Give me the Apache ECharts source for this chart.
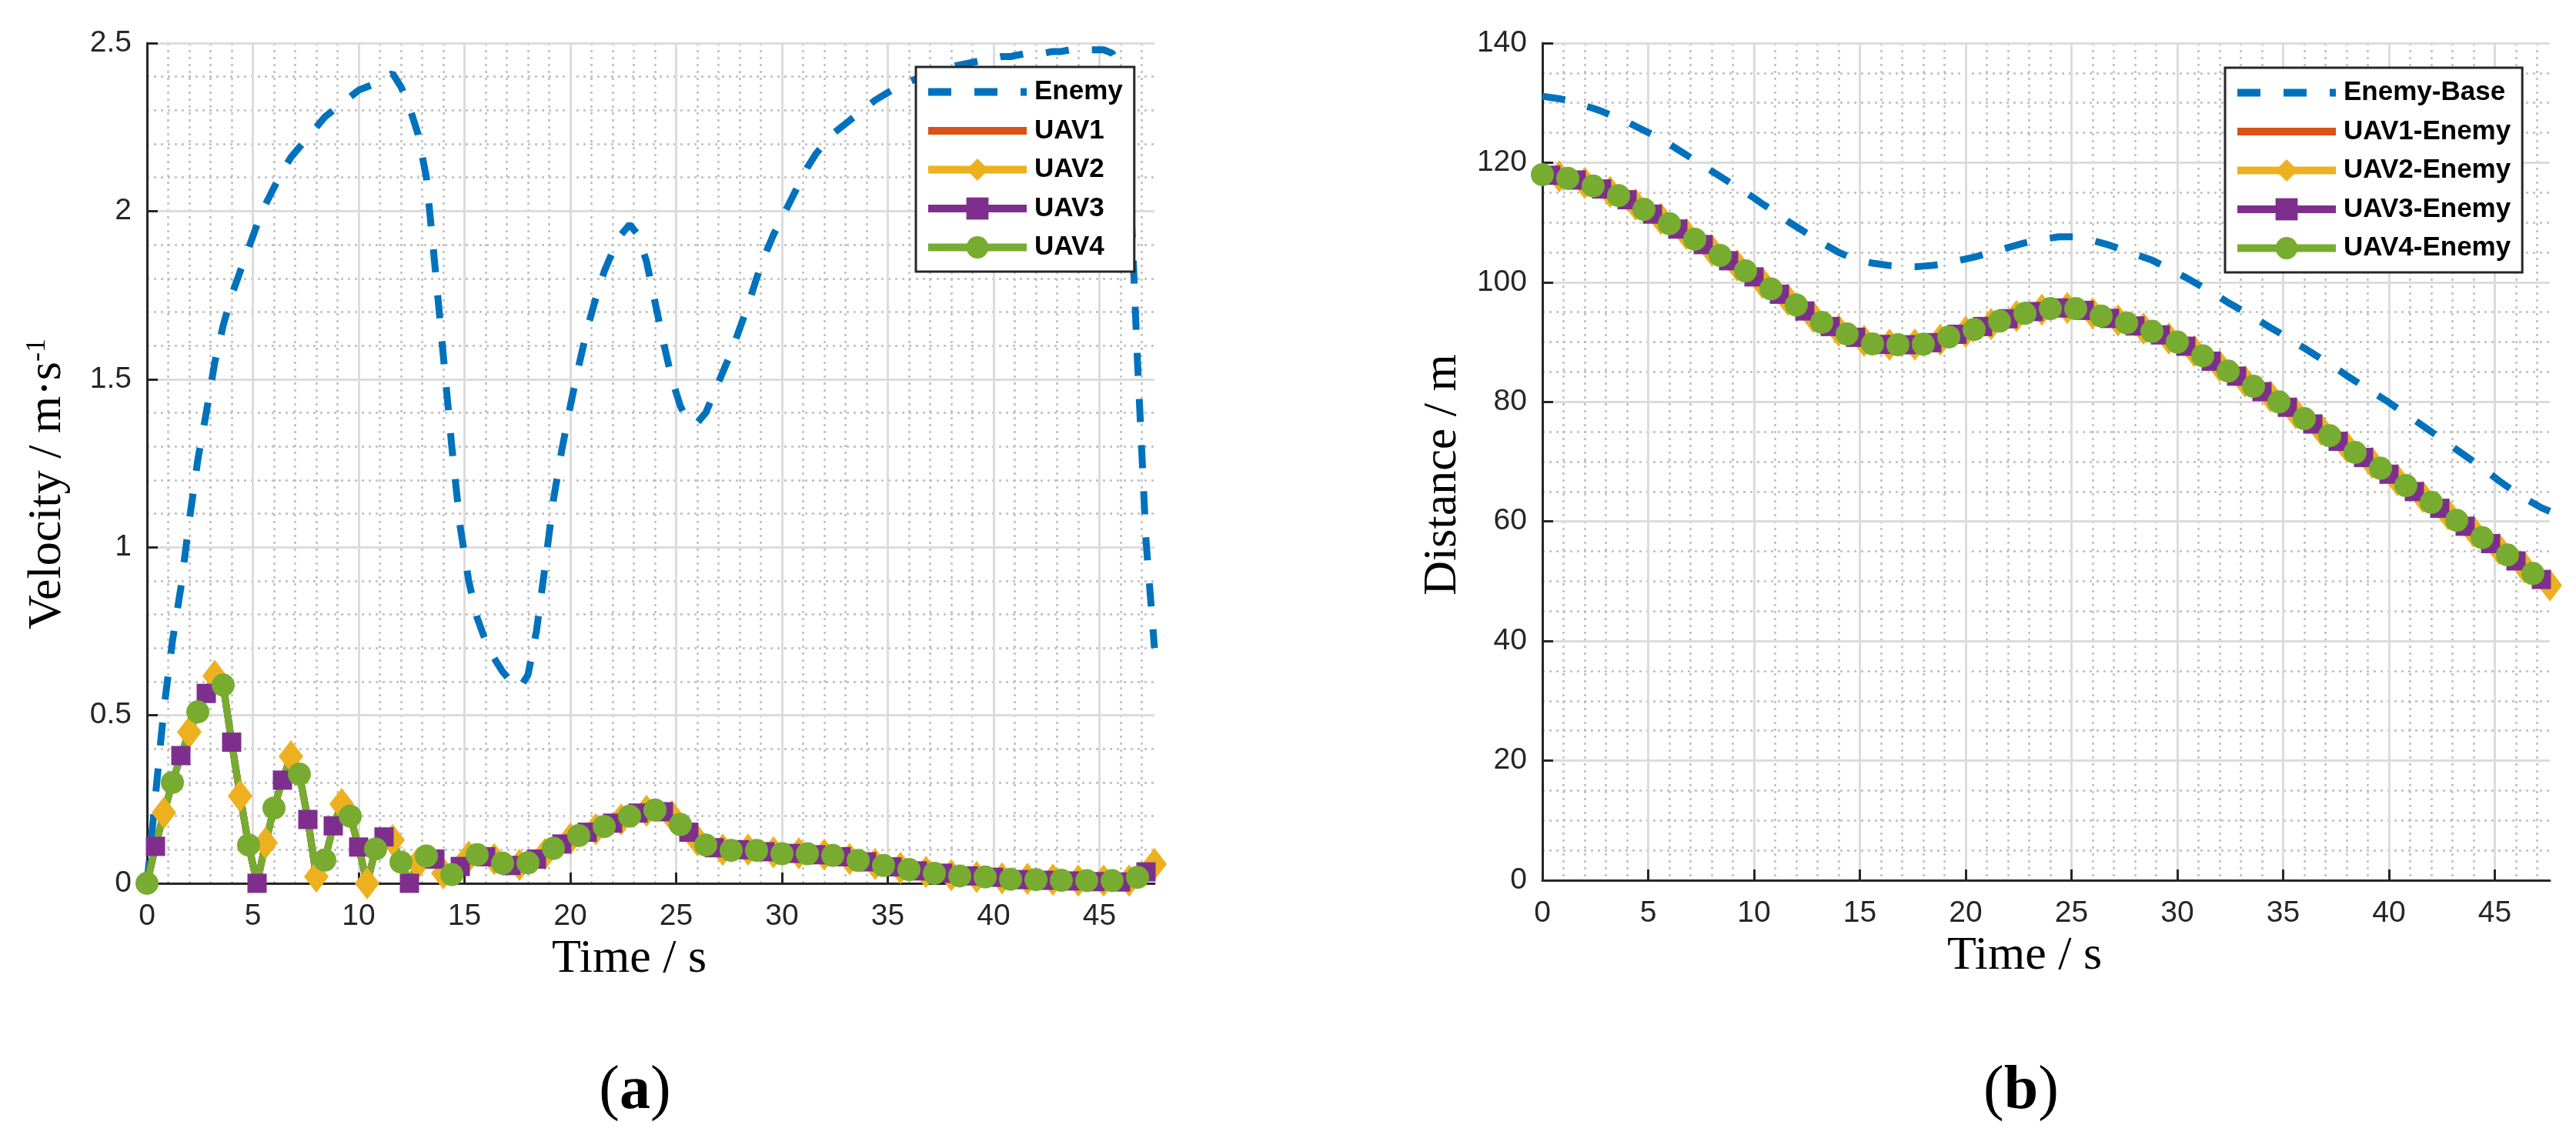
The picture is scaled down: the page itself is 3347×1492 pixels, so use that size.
<!DOCTYPE html>
<html>
<head>
<meta charset="utf-8">
<title>Velocity and distance</title>
<script src="https://cdn.jsdelivr.net/npm/echarts@6/dist/echarts.min.js"></script>
<style>
  html, body { margin: 0; padding: 0; background: #fff; }
  #chart { width: 3347px; height: 1492px; }
</style>
</head>
<body>
<div id="chart"></div>
<script>
// sample times (s), shared by every curve
var timeSec = [
  0, 0.4, 0.8, 1.2, 1.6, 2, 2.4, 2.8, 3.2, 3.6,
  4, 4.4, 4.8, 5.2, 5.6, 6, 6.4, 6.8, 7.2, 7.6,
  8, 8.4, 8.8, 9.2, 9.6, 10, 10.4, 10.8, 11.2, 11.6,
  12, 12.4, 12.8, 13.2, 13.6, 14, 14.4, 14.8, 15.2, 15.6,
  16, 16.4, 16.8, 17.2, 17.6, 18, 18.4, 18.8, 19.2, 19.6,
  20, 20.4, 20.8, 21.2, 21.6, 22, 22.4, 22.8, 23.2, 23.6,
  24, 24.4, 24.8, 25.2, 25.6, 26, 26.4, 26.8, 27.2, 27.6,
  28, 28.4, 28.8, 29.2, 29.6, 30, 30.4, 30.8, 31.2, 31.6,
  32, 32.4, 32.8, 33.2, 33.6, 34, 34.4, 34.8, 35.2, 35.6,
  36, 36.4, 36.8, 37.2, 37.6, 38, 38.4, 38.8, 39.2, 39.6,
  40, 40.4, 40.8, 41.2, 41.6, 42, 42.4, 42.8, 43.2, 43.6,
  44, 44.4, 44.8, 45.2, 45.6, 46, 46.4, 46.8, 47.2, 47.6
];

// (a) velocity, m/s
var enemySpeed = [
  0.00, 0.26, 0.52, 0.72, 0.88, 1.08, 1.26, 1.40, 1.55, 1.66,
  1.75, 1.82, 1.89, 1.96, 2.02, 2.07, 2.12, 2.16, 2.19, 2.22,
  2.25, 2.28, 2.30, 2.32, 2.34, 2.36, 2.37, 2.38, 2.39, 2.41,
  2.37, 2.31, 2.23, 2.10, 1.84, 1.57, 1.30, 1.06, 0.90, 0.79,
  0.72, 0.67, 0.63, 0.60, 0.58, 0.62, 0.75, 0.94, 1.14, 1.29,
  1.42, 1.54, 1.65, 1.74, 1.82, 1.88, 1.93, 1.96, 1.93, 1.85,
  1.73, 1.61, 1.50, 1.42, 1.37, 1.37, 1.40, 1.46, 1.52, 1.58,
  1.65, 1.72, 1.80, 1.87, 1.93, 1.98, 2.03, 2.08, 2.13, 2.17,
  2.20, 2.23, 2.25, 2.27, 2.29, 2.31, 2.33, 2.345, 2.36, 2.37,
  2.385, 2.395, 2.405, 2.415, 2.42, 2.43, 2.435, 2.44, 2.445, 2.45,
  2.455, 2.46, 2.46, 2.465, 2.47, 2.47, 2.47, 2.475, 2.475, 2.48,
  2.48, 2.48, 2.48, 2.48, 2.47, 2.42, 2.15, 1.55, 1.02, 0.70
];
// the four UAV curves lie on top of each other
var uavSpeed = [
  0.00, 0.11, 0.21, 0.30, 0.38, 0.45, 0.51, 0.565, 0.617, 0.59,
  0.42, 0.26, 0.114, 0.00, 0.12, 0.224, 0.307, 0.378, 0.325, 0.19,
  0.02, 0.069, 0.171, 0.236, 0.20, 0.108, 0.00, 0.102, 0.138, 0.129,
  0.063, 0.00, 0.06, 0.081, 0.072, 0.03, 0.026, 0.05, 0.079, 0.085,
  0.079, 0.072, 0.06, 0.053, 0.055, 0.061, 0.072, 0.087, 0.104, 0.117,
  0.133, 0.142, 0.152, 0.161, 0.169, 0.179, 0.19, 0.20, 0.209, 0.216,
  0.218, 0.213, 0.20, 0.175, 0.152, 0.128, 0.114, 0.106, 0.10, 0.098,
  0.10, 0.10, 0.098, 0.094, 0.092, 0.088, 0.089, 0.089, 0.088, 0.085,
  0.085, 0.083, 0.079, 0.072, 0.068, 0.064, 0.057, 0.053, 0.049, 0.046,
  0.041, 0.037, 0.034, 0.030, 0.030, 0.024, 0.022, 0.022, 0.019, 0.019,
  0.018, 0.015, 0.012, 0.011, 0.013, 0.011, 0.009, 0.011, 0.009, 0.007,
  0.008, 0.008, 0.005, 0.008, 0.008, 0.004, 0.008, 0.018, 0.034, 0.057
];

// (b) distance, m
var enemyDist = [
  131.1, 130.9, 130.7, 130.4, 130.0, 129.5, 129.1, 128.6, 128.0, 127.4,
  126.8, 126.1, 125.4, 124.7, 123.9, 123.1, 122.2, 121.3, 120.4, 119.5,
  118.6, 117.7, 116.8, 115.9, 115.0, 114.1, 113.1, 112.2, 111.2, 110.2,
  109.3, 108.4, 107.5, 106.6, 105.8, 105.0, 104.4, 103.9, 103.5, 103.2,
  103.0, 102.8, 102.7, 102.6, 102.6, 102.7, 102.8, 103.0, 103.3, 103.6,
  103.9, 104.2, 104.6, 105.0, 105.4, 105.8, 106.2, 106.6, 106.9, 107.2,
  107.4, 107.6, 107.6, 107.6, 107.4, 107.0, 106.6, 106.2, 105.7, 105.2,
  104.7, 104.2, 103.7, 103.0, 102.3, 101.5, 100.8, 100.0, 99.2, 98.4,
  97.5, 96.6, 95.8, 95.0, 94.2, 93.3, 92.4, 91.6, 90.7, 89.8,
  89.0, 88.1, 87.2, 86.3, 85.4, 84.4, 83.5, 82.6, 81.7, 80.8,
  79.9, 78.9, 78.0, 77.0, 76.0, 75.0, 74.0, 73.0, 72.0, 71.0,
  70.0, 69.0, 67.9, 66.8, 65.8, 64.8, 63.9, 63.1, 62.3, 61.7
];
var uavDist = [
  118.0, 117.9, 117.7, 117.4, 117.1, 116.6, 116.1, 115.6, 115.1, 114.5,
  113.8, 113.0, 112.2, 111.4, 110.6, 109.8, 108.9, 108.1, 107.2, 106.3,
  105.4, 104.5, 103.6, 102.8, 101.9, 100.9, 99.9, 98.9, 98.0, 97.1,
  96.2, 95.2, 94.2, 93.3, 92.6, 91.9, 91.35, 90.8, 90.2, 89.7,
  89.6, 89.55, 89.55, 89.55, 89.6, 89.65, 89.9, 90.4, 90.85, 91.3,
  91.7, 92.1, 92.6, 93.0, 93.5, 93.9, 94.35, 94.8, 95.1, 95.4,
  95.6, 95.7, 95.7, 95.6, 95.3, 94.8, 94.35, 93.95, 93.6, 93.2,
  92.7, 92.25, 91.8, 91.2, 90.6, 90.0, 89.3, 88.5, 87.7, 86.8,
  86.0, 85.15, 84.3, 83.4, 82.6, 81.7, 80.9, 80.0, 79.1, 78.1,
  77.2, 76.3, 75.3, 74.35, 73.4, 72.5, 71.55, 70.7, 69.8, 68.9,
  67.9, 66.9, 66.0, 65.0, 64.1, 63.2, 62.2, 61.2, 60.2, 59.2,
  58.3, 57.3, 56.3, 55.4, 54.4, 53.4, 52.3, 51.3, 50.3, 49.3
];

var namesA = ['Enemy', 'UAV1', 'UAV2', 'UAV3', 'UAV4'];
var namesB = ['Enemy-Base', 'UAV1-Enemy', 'UAV2-Enemy', 'UAV3-Enemy', 'UAV4-Enemy'];

var C_ENEMY = '#0072BD', C_UAV1 = '#D95319', C_UAV2 = '#EDB120', C_UAV3 = '#7E2F8E', C_UAV4 = '#77AC30';
var DARK = '#262626';

function pairs(values) {
  return values.map(function (v, i) { return [timeSec[i], v]; });
}
// markers sit on every third sample, staggered between the UAVs
function marked(values, phase, shape) {
  return values.map(function (v, i) {
    return { value: [timeSec[i], v], symbol: i % 3 === phase ? shape : 'none' };
  });
}

var tickLabel = { fontFamily: 'Liberation Sans', fontSize: 39, color: DARK };
var axisLine = { show: true, onZero: false, lineStyle: { color: DARK, width: 3 } };
var axisTick = { show: true, inside: true, length: 14, lineStyle: { color: DARK, width: 3 } };
var majorLine = { color: '#dcdcdc', width: 3 };
var minorLine = { color: '#bdbdbd', width: 2.5, type: [3, 6] };
var titleFont = { fontFamily: 'Liberation Serif', fontSize: 62, color: '#000' };

function timeAxis(g) {
  return {
    type: 'value', gridIndex: g, min: 0, max: 47.6, interval: 5, z: 2,
    name: 'Time / s', nameLocation: 'middle', nameGap: 66,
    nameTextStyle: Object.assign({ padding: [0, 56, 0, 0] }, titleFont),
    axisLine: axisLine, axisTick: axisTick,
    axisLabel: Object.assign({ margin: 24, showMaxLabel: false }, tickLabel),
    splitLine: { show: true, showMaxLine: false, lineStyle: majorLine }
  };
}
function timeMinor(g) {
  return {
    type: 'value', gridIndex: g, min: 0, max: 47.6, interval: 1, z: 0,
    axisLine: { show: false }, axisTick: { show: false }, axisLabel: { show: false },
    splitLine: { show: true, showMinLine: false, showMaxLine: false, lineStyle: minorLine }
  };
}
function valueAxis(g, max, step, minorSplit, name, namePad) {
  return {
    type: 'value', gridIndex: g, min: 0, max: max, interval: step, z: 2,
    name: name, nameLocation: 'middle', nameGap: 98,
    nameTextStyle: Object.assign({
      padding: [0, namePad, 0, 0],
      rich: { sup: { fontFamily: 'Liberation Serif', fontSize: 36, color: '#000', verticalAlign: 'top' } }
    }, titleFont),
    axisLine: axisLine, axisTick: axisTick,
    axisLabel: Object.assign({ margin: 20 }, tickLabel),
    splitLine: { show: true, lineStyle: majorLine },
    minorTick: { show: false, splitNumber: minorSplit },
    minorSplitLine: { show: true, lineStyle: minorLine }
  };
}

function panelSeries(names, enemy, uav, xi, yi) {
  var base = { type: 'line', xAxisIndex: xi, yAxisIndex: yi, animation: false };
  return [
    Object.assign({ name: names[0], data: pairs(enemy), symbol: 'none',
      lineStyle: { color: C_ENEMY, width: 9, type: [30, 30], cap: 'butt' }, itemStyle: { color: C_ENEMY } }, base),
    Object.assign({ name: names[1], data: pairs(uav), symbol: 'none',
      lineStyle: { color: C_UAV1, width: 9 }, itemStyle: { color: C_UAV1 } }, base),
    Object.assign({ name: names[2], data: marked(uav, 2, 'diamond'), symbol: 'diamond', symbolSize: [32, 42],
      lineStyle: { color: C_UAV2, width: 9 }, itemStyle: { color: C_UAV2 } }, base),
    Object.assign({ name: names[3], data: marked(uav, 1, 'rect'), symbol: 'rect', symbolSize: 25,
      lineStyle: { color: C_UAV3, width: 9 }, itemStyle: { color: C_UAV3 } }, base),
    Object.assign({ name: names[4], data: marked(uav, 0, 'circle'), symbol: 'circle', symbolSize: 30,
      lineStyle: { color: C_UAV4, width: 9 }, itemStyle: { color: C_UAV4 } }, base)
  ];
}

function legendBox(names, left, top) {
  return {
    // plain line entries get no marker in the legend
    data: names.map(function (n, i) {
      return i < 2 ? { name: n, itemStyle: { opacity: 0 } } : { name: n };
    }),
    orient: 'vertical', left: left, top: top,
    padding: [15, 15, 14, 11], itemWidth: 128, itemHeight: 36, itemGap: 15.5,
    backgroundColor: '#fff', borderColor: DARK, borderWidth: 3, borderRadius: 0,
    lineStyle: { width: 10 },
    textStyle: { fontFamily: 'Liberation Sans', fontWeight: 'bold', fontSize: 35, color: '#000', padding: [0, 0, 0, 5] },
    selectedMode: false
  };
}

function panelLabel(letter, x) {
  return {
    type: 'text', x: x, y: 1419, style: {
      text: '({b|' + letter + '})', fill: '#000', font: '80px "Liberation Serif"',
      align: 'center', verticalAlign: 'middle', textAlign: 'center', textVerticalAlign: 'middle',
      rich: { b: { fontFamily: 'Liberation Serif', fontSize: 80, fontWeight: 'bold' } }
    }
  };
}

var chart = echarts.init(document.getElementById('chart'));
chart.setOption({
  backgroundColor: '#fff',
  animation: false,
  grid: [
    { left: 191, top: 56, width: 1309, height: 1092 },
    { left: 2004, top: 56, width: 1309, height: 1088 }
  ],
  xAxis: [timeAxis(0), timeMinor(0), timeAxis(1), timeMinor(1)],
  yAxis: [
    valueAxis(0, 2.5, 0.5, 5, 'Velocity / m\u00b7s{sup|-1}', 54),
    valueAxis(1, 140, 20, 4, 'Distance / m', 34)
  ],
  legend: [legendBox(namesA, 1190, 87), legendBox(namesB, 2891, 88)],
  series: panelSeries(namesA, enemySpeed, uavSpeed, 0, 0)
    .concat(panelSeries(namesB, enemyDist, uavDist, 2, 1)),
  graphic: [panelLabel('a', 825), panelLabel('b', 2626)]
});
</script>
</body>
</html>
